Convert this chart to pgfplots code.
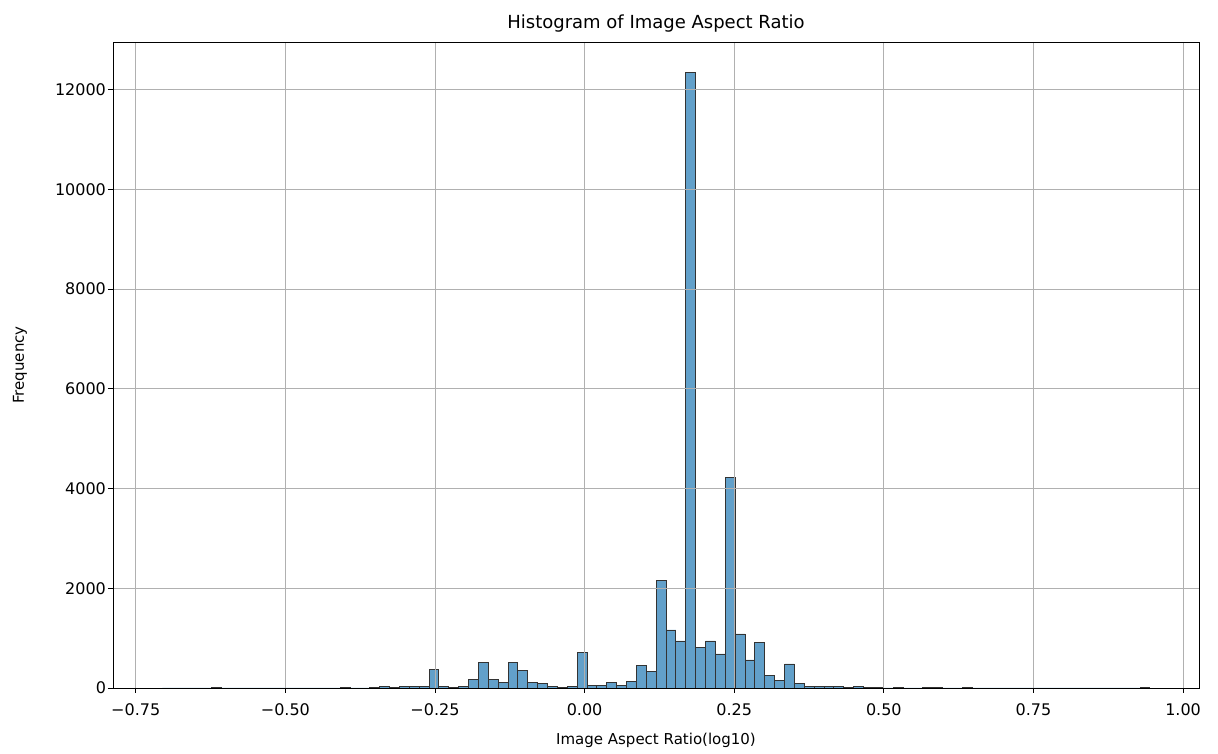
\documentclass[border=0pt]{standalone}
\usepackage{fontspec}
\setmainfont{DejaVu Sans}
\usepackage{pgfplots}
\pgfplotsset{compat=1.18}
\usepackage{pgfplotstable}
\definecolor{barfill}{RGB}{98,160,202}
\pgfplotstableread{
x y
-0.7055 1
-0.6890 0
-0.6725 0
-0.6560 0
-0.6395 0
-0.6230 15
-0.6065 0
-0.5900 0
-0.5735 0
-0.5570 0
-0.5405 0
-0.5240 0
-0.5075 0
-0.4910 0
-0.4745 0
-0.4580 0
-0.4415 0
-0.4250 0
-0.4085 15
-0.3920 0
-0.3755 0
-0.3590 20
-0.3425 40
-0.3260 10
-0.3095 25
-0.2930 25
-0.2765 25
-0.2600 375
-0.2435 40
-0.2270 8
-0.2105 30
-0.1940 180
-0.1775 510
-0.1610 180
-0.1445 105
-0.1280 510
-0.1115 360
-0.0950 115
-0.0785 95
-0.0620 25
-0.0455 15
-0.0290 40
-0.0125 705
0.0040 60
0.0205 60
0.0370 110
0.0535 60
0.0700 130
0.0865 460
0.1030 327
0.1195 2160
0.1360 1164
0.1525 943
0.1690 12340
0.1855 816
0.2020 943
0.2185 682
0.2350 4225
0.2515 1084
0.2680 562
0.2845 917
0.3010 257
0.3175 147
0.3340 482
0.3505 100
0.3670 35
0.3835 35
0.4000 35
0.4165 35
0.4330 10
0.4495 40
0.4660 10
0.4825 10
0.4990 0
0.5155 15
0.5320 0
0.5485 0
0.5650 15
0.5815 15
0.5980 0
0.6145 0
0.6310 15
0.6475 0
0.6640 0
0.6805 0
0.6970 0
0.7135 0
0.7300 0
0.7465 0
0.7630 0
0.7795 0
0.7960 0
0.8125 0
0.8290 0
0.8455 0
0.8620 0
0.8785 0
0.8950 0
0.9115 0
0.9280 15
0.9445 0
}\histdata

\begin{document}
\begin{tikzpicture}
\begin{axis}[name=ax, scale only axis, width=543pt, height=323pt,
  xmin=-0.788, xmax=1.0266, ymin=0, ymax=12957,
  scaled y ticks=false, scaled x ticks=false,
  axis on top, grid=major,
  major grid style={color=black!31, line width=0.45pt},
  axis line style={black, line width=0.45pt},
  tick pos=left, tick align=outside, major tick length=2.5pt,
  tick style={black, line width=0.45pt},
  xtick={-0.75,-0.5,-0.25,0,0.25,0.5,0.75,1},
  xticklabels={−0.75,−0.50,−0.25,0.00,0.25,0.50,0.75,1.00},
  ytick={0,2000,4000,6000,8000,10000,12000},
  yticklabels={0,2000,4000,6000,8000,10000,12000},
  every tick label/.append style={font=\fontsize{8}{9.5}\selectfont},
  xticklabel style={yshift=-2pt},
  yticklabel style={xshift=2.5pt},
  title={Histogram of Image Aspect Ratio},
  title style={font=\fontsize{9}{11}\selectfont, at={(axis description cs:0.5,1)}, anchor=base, inner sep=0pt, yshift=0.5pt},
  xlabel={Image Aspect Ratio(log10)},
  ylabel={Frequency},
  label style={font=\fontsize{7.5}{9}\selectfont},
  xlabel style={at={([yshift=-26pt]axis description cs:0.5,0)}, anchor=center},
  ylabel style={at={([xshift=-46.5pt]axis description cs:0,0.5)}, anchor=center},
]
\addplot[ybar interval, fill=barfill, draw=black!80, line width=0.4pt] table {\histdata};
\end{axis}
\path ([shift={(-56.5pt,-32.5pt)}]ax.south west) rectangle ([shift={(9.5pt,21pt)}]ax.north east);
\end{tikzpicture}
\end{document}
